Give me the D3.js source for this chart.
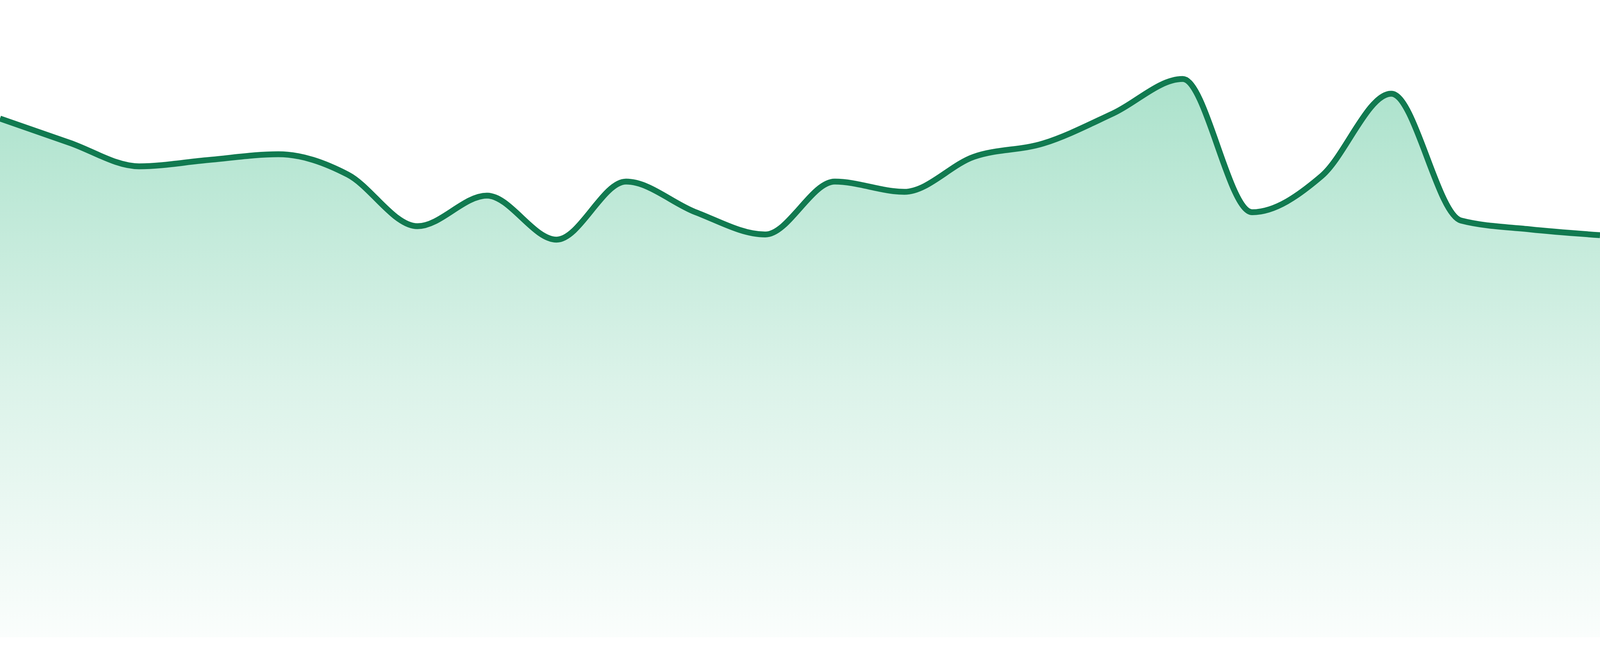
<!DOCTYPE html>
<html>
<head>
<meta charset="utf-8">
<script src="https://cdn.jsdelivr.net/npm/d3@7"></script>
<style>
  html, body { margin: 0; padding: 0; background: #fff; overflow: hidden; }
  svg { display: block; }
</style>
</head>
<body>
<div id="grafica-area"></div>
<script>
// 24 periods, no labels shown on the chart
const categories = d3.range(1, 25).map(d => 'P' + d)
const values = [
    81.4, 77.6, 73.9, 74.9, 75.8, 72.6, 64.5, 69.3,
    62.4, 71.5, 66.7, 63.2, 71.5, 69.9, 75.4, 77.5,
    82.2, 87.6, 66.7, 72.4, 85.3, 65.4, 64.0, 63.1
]
const yDomain = [0, 100]

function grafica_area() {
    const data = categories.map((c, i) => ({ label: c, value: values[i] }))

    // fill the whole window, whatever its css size is
    const width = window.innerWidth
    const height = window.innerHeight
    const k = height / 1680
    const baseline = 1632 * k
    var lineColor = '#117a50'
    var fillColor = 'rgb(16,172,108)'

    const svg = d3.select('#grafica-area')
        .append('svg')
        .attr('width', width)
        .attr('height', height)

    const x = d3.scalePoint()
        .domain(categories)
        .range([0, width])

    const y = d3.scaleLinear()
        .domain(yDomain)
        .range([baseline, 0])

    // gradient for the area, strong at the top, fading to white
    const grad = svg.append('defs').append('linearGradient')
        .attr('id', 'fill-area')
        .attr('gradientUnits', 'userSpaceOnUse')
        .attr('x1', 0).attr('x2', 0)
        .attr('y1', y(d3.max(values))).attr('y2', y(0))
    grad.append('stop').attr('offset', '0%')
        .attr('stop-color', fillColor).attr('stop-opacity', 0.35)
    grad.append('stop').attr('offset', '54%')
        .attr('stop-color', fillColor).attr('stop-opacity', 0.15)
    grad.append('stop').attr('offset', '100%')
        .attr('stop-color', fillColor).attr('stop-opacity', 0.02)

    const area = d3.area()
        .x(d => x(d.label))
        .y0(y(0))
        .y1(d => y(d.value))
        .curve(d3.curveMonotoneX)

    const line = d3.line()
        .x(d => x(d.label))
        .y(d => y(d.value))
        .curve(d3.curveMonotoneX)

    svg.append('path')
        .datum(data)
        .attr('d', area)
        .style('fill', 'url(#fill-area)')

    svg.append('path')
        .datum(data)
        .attr('d', line)
        .style('fill', 'none')
        .style('stroke', lineColor)
        .style('stroke-width', 15 * k)
        .style('stroke-linejoin', 'round')
}

grafica_area()
</script>
</body>
</html>
